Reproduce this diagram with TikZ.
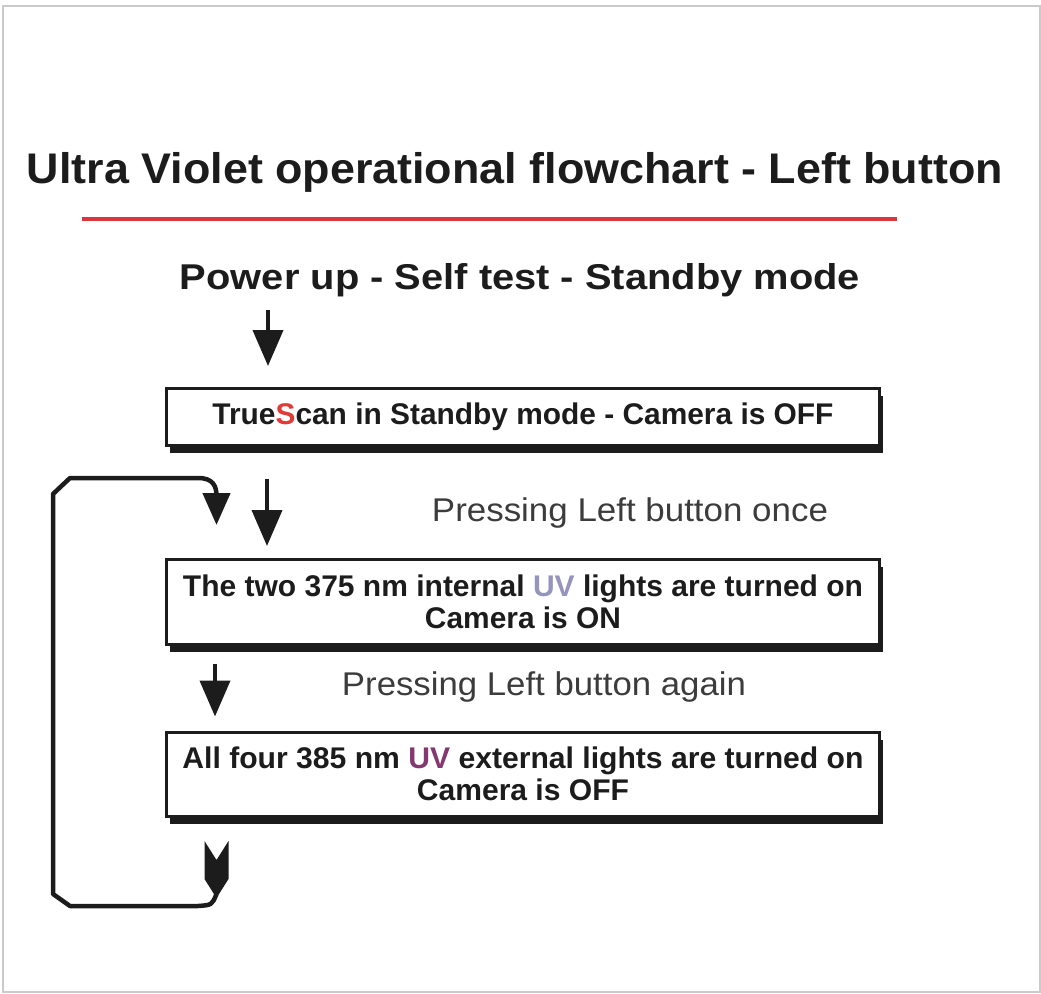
\documentclass[tikz,border=0pt]{standalone}
\usepackage{fontspec}
\setmainfont{Liberation Sans}
\usetikzlibrary{arrows.meta,shadows,calc}
\definecolor{txt}{HTML}{1C1C1C}
\definecolor{redline}{HTML}{D8383A}
\definecolor{redS}{HTML}{E23A36}
\definecolor{uvA}{HTML}{9494BC}
\definecolor{uvB}{HTML}{84386F}
\definecolor{framegray}{HTML}{CACACA}
\definecolor{lblgray}{HTML}{3C3C3C}
\newcommand\fw[2]{\resizebox{#1bp}{\height}{#2}}
\begin{document}
\begin{tikzpicture}[x=1bp,y=-1bp,
  box/.style={draw=txt, fill=white, line width=3bp, minimum width=712bp, inner sep=0pt,
    align=center, text=txt, font=\bfseries\fontsize{30}{32}\selectfont,
    drop shadow={shadow xshift=3.5bp, shadow yshift=-7.5bp, fill=txt, opacity=1}},
  arr/.style={draw=txt, line width=4bp, -{Triangle[length=36bp,width=30bp]}},
  lbl/.style={text=lblgray, font=\fontsize{33}{36}\selectfont, inner sep=0pt, anchor=base},
  ttl/.style={text=txt, font=\bfseries\fontsize{43}{48}\selectfont, inner sep=0pt, anchor=base}]
\useasboundingbox (0,0) rectangle (1041,994);
\draw[framegray, line width=2bp] (3,6) rectangle (1040,992);

\node[ttl] (title) at (515,183) {\fw{976}{Ultra Violet operational flowchart - Left button}};
\coordinate (rl) at (82,219);
\coordinate (rr) at (897,219);
\draw[redline, line width=3.5bp] (rl) -- (rr);
\node[ttl, font=\bfseries\fontsize{36}{40}\selectfont] (sub) at (520,289) {\fw{680}{Power up - Self test - Standby mode}};

\node[box, minimum height=57bp] (b1) at (523,417)
  {\fw{621}{True\textcolor{redS}{S}can in Standby mode - Camera is OFF}};
\node[box, minimum height=85bp] (b2) at (523,602)
  {\fw{680}{The two 375 nm internal \textcolor{uvA}{UV} lights are turned on}\\ \fw{196}{Camera is ON}};
\node[box, minimum height=84bp] (b3) at (523,774)
  {\fw{681}{All four 385 nm \textcolor{uvB}{UV} external lights are turned on}\\ \fw{212}{Camera is OFF}};

\node[lbl] (l1) at (630,521) {\fw{396}{Pressing Left button once}};
\node[lbl] (l2) at (544,695) {\fw{404}{Pressing Left button again}};

\coordinate (xa) at (268,0);
\coordinate (xb) at (267,0);
\coordinate (xc) at (215,0);
\coordinate (xl) at (216.5,0);
\draw[arr, shorten <=13bp, shorten >=21bp] (sub.south -| xa) -- (b1.north -| xa);
\draw[arr, shorten <=32bp, shorten >=12bp] (b1.south -| xb) -- (b2.north -| xb);
\draw[arr, shorten <=17.5bp, shorten >=14bp] (b2.south -| xc) -- (b3.north -| xc);

\coordinate (tailtop) at ($(b3.south -| xl)+(0,23.5)$);
\fill[txt] (tailtop) ++(-12,0) -- ++(12,19) -- ++(12,-19) -- ++(0,38) -- ++(-12,19) -- ++(-12,-19) -- cycle;
\coordinate (tailtip) at ($(tailtop)+(0,53)$);
\draw[txt, line width=4.5bp, line join=round, shorten >=33bp, -{Triangle[length=32bp,width=27bp]}]
  (tailtip) .. controls (212,905) .. (198,906) -- (70,906) -- (53,894) -- (53,494) -- (70,478) -- (198,478)
  .. controls (213,478) and (216.5,486) .. (216.5,496) -- (b2.north -| xl);
\end{tikzpicture}
\end{document}
